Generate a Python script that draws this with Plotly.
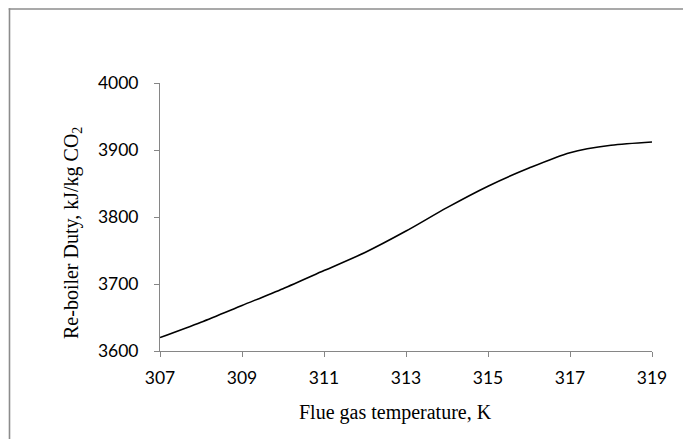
import plotly.graph_objects as go

temperature_K = [307, 308, 309, 310, 311, 312, 313, 314, 315, 316, 317, 318, 319]
reboiler_duty = [3620, 3643, 3668, 3693, 3720, 3747, 3779, 3814, 3846, 3873, 3896, 3907, 3912]
x_ticks = [307, 309, 311, 313, 315, 317, 319]
y_ticks = [3600, 3700, 3800, 3900, 4000]

axis_gray = "#868686"
border_gray = "#8c8c8c"

W, H = 683, 439
ML, MR, MT, MB = 160, 31, 83, 88

fig = go.Figure()
fig.add_trace(go.Scatter(
    x=temperature_K, y=reboiler_duty, mode="lines",
    line=dict(color="black", width=1.6, shape="spline", smoothing=0.8),
    showlegend=False, hoverinfo="x+y",
))

tick_font = dict(family="Lato, Open Sans, sans-serif", size=17.5, color="black")
title_font = dict(family="Liberation Serif, Times New Roman, serif", size=20, color="black")

pw = W - ML - MR
ph = H - MT - MB


def px_x(ax):  # screen x -> paper x
    return (ax - ML) / pw


def px_y(ay):  # screen y -> paper y
    return (H - MB - ay) / ph


fig.update_layout(
    width=W, height=H,
    margin=dict(l=ML, r=MR, t=MT, b=MB),
    paper_bgcolor="white", plot_bgcolor="white",
    xaxis=dict(
        range=[307, 319], tickvals=x_ticks, ticktext=[str(v) for v in x_ticks],
        showgrid=False, zeroline=False, showline=True, linecolor=axis_gray, linewidth=1,
        ticks="outside", ticklen=5, tickcolor=axis_gray, tickwidth=1,
        tickfont=tick_font, ticklabelstandoff=6,
    ),
    yaxis=dict(
        range=[3600, 4000], tickvals=y_ticks, ticktext=[str(v) for v in y_ticks],
        showgrid=False, zeroline=False, showline=True, linecolor=axis_gray, linewidth=1,
        ticks="outside", ticklen=5, tickcolor=axis_gray, tickwidth=1,
        tickfont=tick_font, ticklabelstandoff=12,
    ),
    annotations=[
        dict(text="Flue gas temperature, K", xref="paper", yref="paper",
             x=px_x(395), y=px_y(412), xanchor="center", yanchor="middle",
             showarrow=False, font=title_font),
        dict(text="Re-boiler Duty, kJ/kg CO<sub>2</sub>", xref="paper", yref="paper",
             x=px_x(72), y=px_y(233), xanchor="center", yanchor="middle",
             textangle=-90, showarrow=False, font=title_font),
    ],
    shapes=[
        dict(type="line", xref="paper", yref="paper",
             x0=px_x(8.7), x1=px_x(700), y0=px_y(9), y1=px_y(9),
             line=dict(color=border_gray, width=1.6), layer="below"),
        dict(type="line", xref="paper", yref="paper",
             x0=px_x(9.5), x1=px_x(9.5), y0=px_y(8.2), y1=px_y(480),
             line=dict(color=border_gray, width=1.6), layer="below"),
    ],
)

fig.write_html(
    "out.html",
    config={"displayModeBar": False},
    post_script="document.body.style.margin='0';document.body.style.overflow='hidden';",
)
